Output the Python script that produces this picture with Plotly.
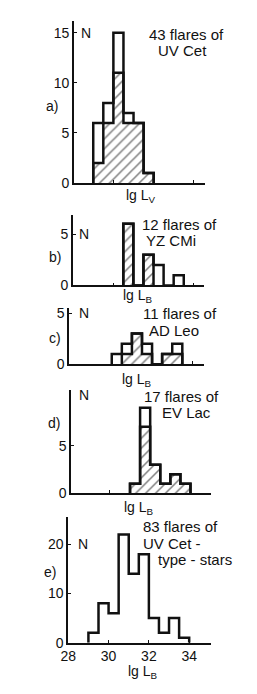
import plotly.graph_objects as go

W, H = 257, 694

# ---- data ----
bin_left = [29.0, 29.5, 30.0, 30.5, 31.0, 31.5, 32.0, 32.5, 33.0, 33.5]
bin_width = 0.5

a_total = [6, 8, 15, 7, 6, 1, 0, 0, 0, 0]
a_hatched = [2, 6, 11, 6, 6, 1, 0, 0, 0, 0]
b_total = [0, 0, 0, 6, 0, 3, 2, 0, 1, 0]
b_hatched = [0, 0, 0, 6, 0, 3, 0, 0, 0, 0]
c_total = [0, 0, 1, 2, 3, 2, 0, 1, 2, 0]
c_hatched = [0, 0, 0, 1, 3, 1, 0, 1, 1, 0]
d_total = [0, 0, 0, 0, 1, 9, 3, 1, 2, 1]
d_hatched = [0, 0, 0, 0, 1, 7, 3, 1, 2, 1]
e_total = [2, 8, 6, 22, 14, 18, 5, 2, 5, 1]

panel_labels = ["a)", "b)", "c)", "d)", "e)"]
e_xticks = [28, 30, 32, 34]

INK = "#111111"
FONT = "Liberation Sans"
PXU = 20.8  # pixels per x unit


def step_xy(counts):
    idx = [i for i, c in enumerate(counts) if c > 0]
    if not idx:
        return [], []
    i0, i1 = idx[0], idx[-1]
    xs = [bin_left[i0]] + bin_left[i0:i1 + 1] + [bin_left[i1] + bin_width]
    ys = [0] + counts[i0:i1 + 1] + [0]
    return xs, ys


# panel geometry (pixels): x-left, x-right, y-top, y-bottom, x0 range start, y-range top, yticks
panels = [
    dict(L=68, R=203, T=18, B=183, x0=28.04, ymax=16.2, yt=[0, 5, 10, 15],
         tot=a_total, hat=a_hatched),
    dict(L=67, R=202, T=215, B=287, x0=28.0, ymax=6.9, yt=[0, 5],
         tot=b_total, hat=b_hatched),
    dict(L=63, R=202, T=310, B=367, x0=27.88, ymax=5.5, yt=[0, 5],
         tot=c_total, hat=c_hatched),
    dict(L=65, R=210, T=393, B=498, x0=28.07, ymax=10.9, yt=[0, 5],
         tot=d_total, hat=d_hatched),
    dict(L=62, R=210, T=522, B=650, x0=27.99, ymax=25.6, yt=[0, 10, 20],
         tot=e_total, hat=None),
]

fig = go.Figure()
layout = dict(
    width=W, height=H, margin=dict(l=0, r=0, t=0, b=0),
    paper_bgcolor="white", plot_bgcolor="white", showlegend=False,
    font=dict(family=FONT, size=14, color=INK),
)

for k, p in enumerate(panels):
    n = "" if k == 0 else str(k + 1)
    xa, ya = "x" + n, "y" + n
    if p["hat"] is not None:
        hx, hy = step_xy(p["hat"])
        fig.add_trace(go.Scatter(
            x=hx, y=hy, xaxis=xa, yaxis=ya, mode="lines",
            line=dict(shape="hv", color=INK, width=2.5),
            fill="toself", fillcolor="white",
            fillpattern=dict(shape="/", fgcolor="#000000", bgcolor="white",
                             size=7, solidity=0.22),
            hoverinfo="skip"))
    tx, ty = step_xy(p["tot"])
    fig.add_trace(go.Scatter(
        x=tx, y=ty, xaxis=xa, yaxis=ya, mode="lines",
        line=dict(shape="hv", color=INK, width=2.5), hoverinfo="skip"))

    xr = [p["x0"], p["x0"] + (p["R"] - p["L"]) / PXU]
    is_e = k == 4
    layout["xaxis" + n] = dict(
        domain=[p["L"] / W, p["R"] / W], range=xr, anchor=ya,
        showgrid=False, zeroline=False, showline=True, linecolor=INK,
        linewidth=1.8, ticks="inside", ticklen=3, tickcolor=INK,
        tickvals=e_xticks if is_e else [30, 34],
        showticklabels=is_e, tickfont=dict(size=14, color=INK),
    )
    layout["yaxis" + n] = dict(
        domain=[1 - p["B"] / H, 1 - p["T"] / H], range=[0, p["ymax"]],
        anchor=xa, showgrid=False, zeroline=False, showline=True,
        linecolor=INK, linewidth=1.5, ticks="inside", ticklen=3,
        tickcolor=INK, tickvals=p["yt"], tickfont=dict(size=14, color=INK),
    )

fig.update_layout(**layout)


def ann(text, x, y, xanchor="center", size=15):
    fig.add_annotation(text=text, x=x / W, y=1 - y / H, xref="paper",
                       yref="paper", xanchor=xanchor, yanchor="middle",
                       showarrow=False, font=dict(family=FONT, size=size,
                                                  color=INK))


# panel a
ann("43 flares of", 184, 32)
ann("UV Cet", 180, 48)
ann("N", 81, 30, size=14)
ann(panel_labels[0], 45, 105, size=14)
ann("lg L<sub>V</sub>", 137, 196, size=14)
# panel b
ann("12 flares of", 177, 225)
ann("YZ CMi", 168, 241)
ann("N", 78, 235, size=14)
ann(panel_labels[1], 48, 258, size=14)
ann("lg L<sub>B</sub>", 134, 298, size=14)
# panel c
ann("11 flares of", 178, 316)
ann("AD Leo", 171, 333)
ann("N", 78, 315, size=14)
ann(panel_labels[2], 48, 340, size=14)
ann("lg L<sub>B</sub>", 133, 383, size=14)
# panel d
ann("17 flares of", 179, 400)
ann("EV Lac", 157, 416, xanchor="left")
ann("N", 78, 398, size=14)
ann(panel_labels[3], 47, 427, size=14)
ann("lg L<sub>B</sub>", 135, 513, size=14)
# panel e
ann("83 flares of", 137, 532, xanchor="left")
ann("UV Cet -", 137, 549, xanchor="left")
ann("type - stars", 153, 565, xanchor="left")
ann("N", 77, 550, size=14)
ann(panel_labels[4], 43, 578, size=14)
ann("lg L<sub>B</sub>", 139, 680, size=14)

fig.write_html("out.html")
